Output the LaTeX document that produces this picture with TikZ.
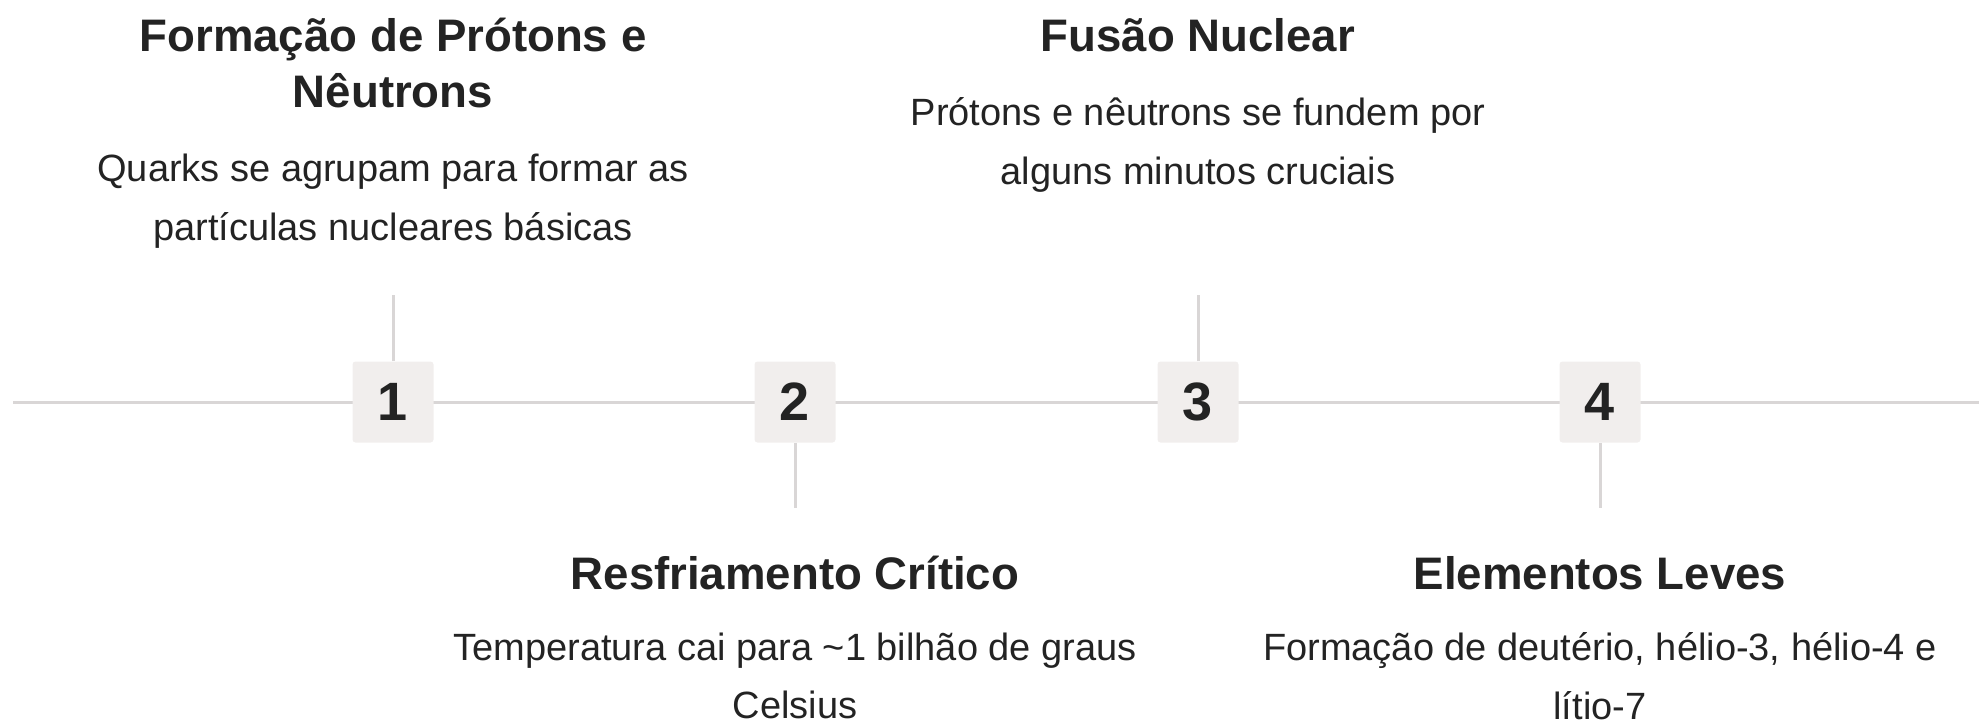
\documentclass[tikz,border=0pt]{standalone}
\usepackage{fontspec}
\setmainfont{Liberation Sans}
\usetikzlibrary{positioning}

\definecolor{linegray}{HTML}{D9D6D6}
\definecolor{boxgray}{HTML}{F1EEED}
\definecolor{textdark}{HTML}{232323}

\tikzset{
  numbox/.style={fill=boxgray, rounded corners=1.5pt, minimum size=40.5pt, inner sep=0pt,
    text=textdark, font=\bfseries\fontsize{27}{30}\selectfont},
  titletext/.style={align=center, text=textdark, inner sep=0pt,
    font=\bfseries\fontsize{22.8}{28}\selectfont},
  desctext/.style={align=center, text=textdark, inner sep=0pt,
    font=\fontsize{19}{29.3}\selectfont},
  tick/.style={draw=linegray, line width=1.5pt}
}

\begin{document}
\begin{tikzpicture}[x=0.5pt, y=-0.5pt]
            \useasboundingbox (0,0) rectangle (1983,723);
            % timeline
            \coordinate (left) at (13,402);
            \coordinate (right) at (1979,402);
            \draw [tick] (left) -- (right);
            \node [numbox] (n1) at (393,402) {1};
            \node [numbox] (n2) at (795,402) {2};
            \node [numbox] (n3) at (1198,402) {3};
            \node [numbox] (n4) at (1600,402) {4};
            % ticks
            \coordinate (t1) at (393,295);
            \coordinate (t2) at (795,508);
            \coordinate (t3) at (1198,295);
            \coordinate (t4) at (1600,508);
            \draw [tick] (n1.north) -- (t1);
            \draw [tick] (n2.south) -- (t2);
            \draw [tick] (n3.north) -- (t3);
            \draw [tick] (n4.south) -- (t4);
            % texts above
            \node [titletext] (title1) at (393,63) {Formação de Prótons e\\Nêutrons};
            \node [desctext] (desc1) at (393,201) {Quarks se agrupam para formar as\\partículas nucleares básicas};
            \node [titletext] (title3) at (1198,35) {Fusão Nuclear};
            \node [desctext] (desc3) at (1198,145) {Prótons e nêutrons se fundem por\\alguns minutos cruciais};
            % texts below
            \node [titletext] (title2) at (795,573) {Resfriamento Crítico};
            \node [desctext] (desc2) at (795,676) {Temperatura cai para \textasciitilde1 bilhão de graus\\Celsius};
            \node [titletext] (title4) at (1600,573) {Elementos Leves};
            \node [desctext] (desc4) at (1600,676) {Formação de deutério, hélio-3, hélio-4 e\\lítio-7};
\end{tikzpicture}
\end{document}
